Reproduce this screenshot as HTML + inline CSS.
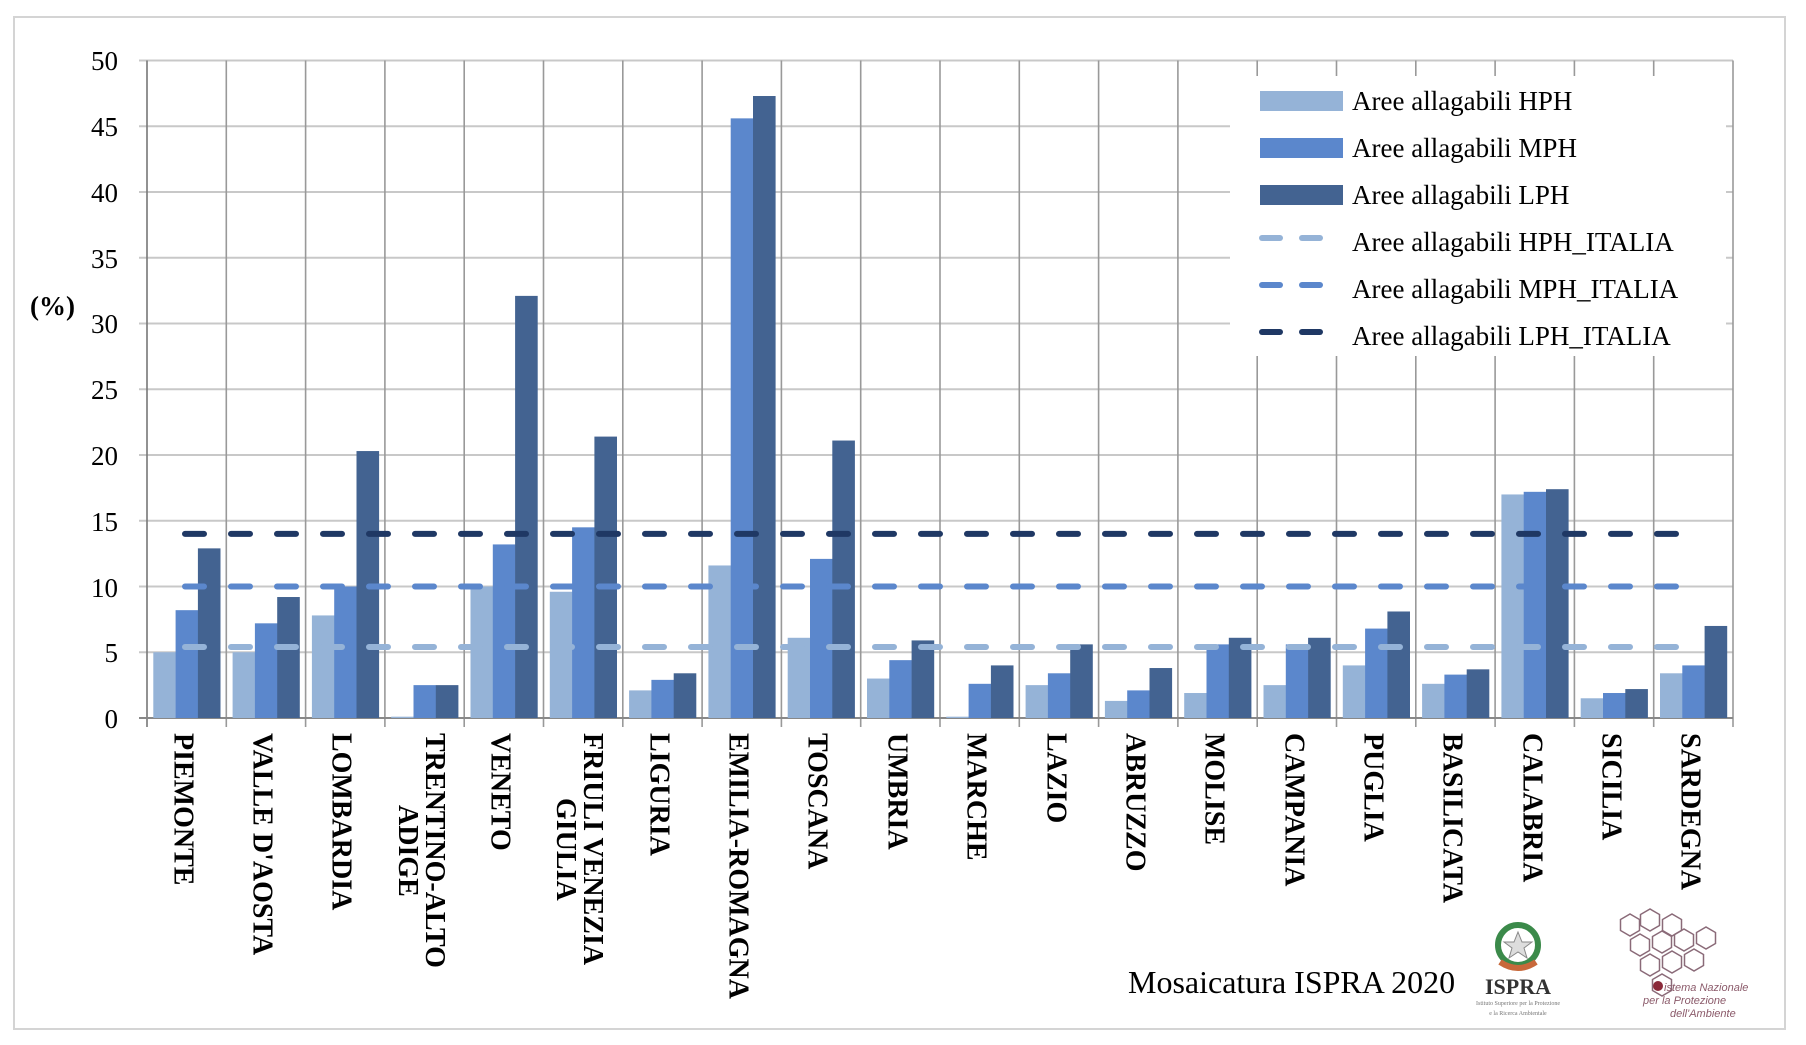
<!DOCTYPE html>
<html><head><meta charset="utf-8"><style>
body{margin:0;background:#fff;}
#w{position:relative;width:1806px;height:1045px;overflow:hidden;background:#fff;font-family:"Liberation Serif",serif;}
.lab{position:absolute;top:733px;writing-mode:vertical-rl;font-weight:bold;font-size:28px;line-height:27px;text-align:center;transform:translateX(calc(-50% - 4px));white-space:nowrap;color:#000;}
</style></head><body><div id="w">
<svg id="s" width="1806" height="1045" style="position:absolute;left:0;top:0">
<rect x="14" y="17" width="1771" height="1012" fill="#fff" stroke="#d4d4d4" stroke-width="2"/>
<g id="grid"></g>
<g id="bars"></g>
<rect x="1230" y="76" width="496" height="280" fill="#fff"/>
<g id="lines"></g>
<g font-family="Liberation Serif" font-size="27" text-anchor="end" fill="#000">
<text x="118" y="70">50</text><text x="118" y="136">45</text><text x="118" y="202">40</text>
<text x="118" y="268">35</text><text x="118" y="333">30</text><text x="118" y="399">25</text>
<text x="118" y="465">20</text><text x="118" y="531">15</text><text x="118" y="597">10</text>
<text x="118" y="662">5</text><text x="118" y="728">0</text>
</g>
<text x="30" y="315" font-family="Liberation Serif" font-size="27" font-weight="bold">(%)</text>
<g font-family="Liberation Serif" font-size="27" fill="#000">
<rect x="1260" y="91" width="83" height="20" fill="#95b3d7"/>
<text x="1352" y="110">Aree allagabili HPH</text>
<rect x="1260" y="138" width="83" height="20" fill="#5b87cc"/>
<text x="1352" y="157">Aree allagabili MPH</text>
<rect x="1260" y="185" width="83" height="20" fill="#436391"/>
<text x="1352" y="204">Aree allagabili LPH</text>
<g stroke-width="6" stroke-linecap="round">
<line x1="1262" y1="238" x2="1280" y2="238" stroke="#95b3d7"/><line x1="1302" y1="238" x2="1320" y2="238" stroke="#95b3d7"/>
<line x1="1262" y1="285" x2="1280" y2="285" stroke="#5b87cc"/><line x1="1302" y1="285" x2="1320" y2="285" stroke="#5b87cc"/>
<line x1="1262" y1="332" x2="1280" y2="332" stroke="#1f3864"/><line x1="1302" y1="332" x2="1320" y2="332" stroke="#1f3864"/>
</g>
<text x="1352" y="251">Aree allagabili HPH_ITALIA</text>
<text x="1352" y="298">Aree allagabili MPH_ITALIA</text>
<text x="1352" y="345">Aree allagabili LPH_ITALIA</text>
</g>
<text x="1128" y="993" font-family="Liberation Serif" font-size="32">Mosaicatura ISPRA 2020</text>
<g>
<circle cx="1518" cy="945" r="20" fill="none" stroke="#3b8a4a" stroke-width="6"/>
<path d="M1500 962 q18 12 36 0" stroke="#c8683a" stroke-width="6" fill="none"/>
<polygon points="1518,932 1522,942 1532,942 1524,948 1527,958 1518,952 1509,958 1512,948 1504,942 1514,942" fill="#ddd" stroke="#888"/>
<text x="1518" y="994" text-anchor="middle" font-family="Liberation Serif" font-weight="bold" font-size="22" fill="#333">ISPRA</text>
<text x="1518" y="1005" text-anchor="middle" font-family="Liberation Serif" font-size="6" fill="#777">Istituto Superiore per la Protezione</text>
<text x="1518" y="1015" text-anchor="middle" font-family="Liberation Serif" font-size="6" fill="#777">e la Ricerca Ambientale</text>
</g>
<g fill="none" stroke="#8a6a78" stroke-width="1.5" id="hex"></g>
<circle cx="1658" cy="986" r="5" fill="#8b2a3a"/>
<g font-family="Liberation Sans" font-size="11" fill="#8b5a6a" font-style="italic">
<text x="1664" y="991">istema Nazionale</text>
<text x="1643" y="1004">per la Protezione</text>
<text x="1670" y="1017">dell'Ambiente</text>
</g>
</svg>
<div class="lab" style="left:187px">PIEMONTE</div>
<div class="lab" style="left:266px">VALLE D'AOSTA</div>
<div class="lab" style="left:345px">LOMBARDIA</div>
<div class="lab" style="left:425px">TRENTINO-ALTO<br>ADIGE</div>
<div class="lab" style="left:504px">VENETO</div>
<div class="lab" style="left:583px">FRIULI VENEZIA<br>GIULIA</div>
<div class="lab" style="left:663px">LIGURIA</div>
<div class="lab" style="left:742px">EMILIA-ROMAGNA</div>
<div class="lab" style="left:821px">TOSCANA</div>
<div class="lab" style="left:901px">UMBRIA</div>
<div class="lab" style="left:980px">MARCHE</div>
<div class="lab" style="left:1060px">LAZIO</div>
<div class="lab" style="left:1139px">ABRUZZO</div>
<div class="lab" style="left:1218px">MOLISE</div>
<div class="lab" style="left:1298px">CAMPANIA</div>
<div class="lab" style="left:1377px">PUGLIA</div>
<div class="lab" style="left:1456px">BASILICATA</div>
<div class="lab" style="left:1536px">CALABRIA</div>
<div class="lab" style="left:1615px">SICILIA</div>
<div class="lab" style="left:1694px">SARDEGNA</div>
</div>
<script>
var NS="http://www.w3.org/2000/svg";
function el(p,t,a){var e=document.createElementNS(NS,t);for(var k in a)e.setAttribute(k,a[k]);document.getElementById(p).appendChild(e);return e;}
var x0=147,cw=79.3,y0=718,k=13.15;
function Y(v){return y0-k*v;}
for(var v=5;v<=50;v+=5){el("grid","line",{x1:139,x2:1733,y1:Y(v),y2:Y(v),stroke:"#c8c8c8","stroke-width":2});}
for(var i=0;i<=20;i++){var x=x0+i*cw;el("grid","line",{x1:x,x2:x,y1:Y(50),y2:y0+9,stroke:i==0?"#777":"#999","stroke-width":1.6});}
el("grid","line",{x1:139,x2:1733,y1:y0,y2:y0,stroke:"#888","stroke-width":2});
var d=[[5.0,8.2,12.9],[5.0,7.2,9.2],[7.8,10.0,20.3],[0.1,2.5,2.5],[10.0,13.2,32.1],[9.6,14.5,21.4],[2.1,2.9,3.4],[11.6,45.6,47.3],[6.1,12.1,21.1],[3.0,4.4,5.9],[0.1,2.6,4.0],[2.5,3.4,5.6],[1.3,2.1,3.8],[1.9,5.6,6.1],[2.5,5.6,6.1],[4.0,6.8,8.1],[2.6,3.3,3.7],[17.0,17.2,17.4],[1.5,1.9,2.2],[3.4,4.0,7.0]];
var c=["#95b3d7","#5b87cc","#436391"],bw=22.3;
d.forEach(function(r,i){r.forEach(function(v,j){el("bars","rect",{x:x0+i*cw+6.3+j*bw,y:Y(v),width:bw+0.3,height:k*v,fill:c[j]});});});
[[5.4,"#95b3d7"],[10.0,"#5b87cc"],[14.0,"#1f3864"]].forEach(function(p){el("lines","line",{x1:185,x2:1681,y1:Y(p[0]),y2:Y(p[0]),stroke:p[1],"stroke-width":6,"stroke-linecap":"round","stroke-dasharray":"19 27"});});
var hx=[[1630,925],[1650,920],[1672,925],[1640,945],[1662,942],[1684,940],[1706,938],[1650,965],[1672,962],[1694,960],[1662,985]];
hx.forEach(function(h){var pts=[];for(var a=0;a<6;a++){var t=Math.PI/3*a+Math.PI/6;pts.push((h[0]+11*Math.cos(t)).toFixed(1)+","+(h[1]+11*Math.sin(t)).toFixed(1));}el("hex","polygon",{points:pts.join(" ")});});
</script>
</body></html>
